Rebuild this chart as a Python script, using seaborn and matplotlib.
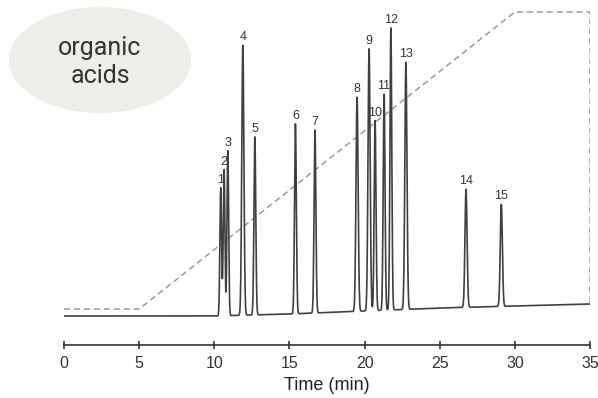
import numpy as np
import pandas as pd
import matplotlib
matplotlib.use('Agg')
import matplotlib.pyplot as plt
from matplotlib.patches import Ellipse
import seaborn as sns

# peak table (time in min, height in arbitrary units)
peak_ids = ['1', '2', '3', '4', '5', '6', '7', '8', '9', '10', '11', '12', '13', '14', '15']
peak_rt = [10.43, 10.65, 10.9, 11.9, 12.7, 15.4, 16.7, 19.5, 20.3, 20.7, 21.3, 21.75, 22.75, 26.75, 29.1]
peak_height = [128, 146, 165, 270, 178, 190, 183, 214, 262, 190, 216, 282, 247, 118, 102]
peak_sigma = [0.055, 0.055, 0.055, 0.07, 0.06, 0.06, 0.06, 0.07, 0.07, 0.06, 0.06, 0.06, 0.07, 0.07, 0.07]

# baseline drift knots
base_time = [0, 10, 15, 20, 25, 30, 35]
base_level = [0, 0, 2, 5, 8, 10, 12]

# solvent gradient program (dashed)
grad_time = [0, 5, 30, 35, 35]
grad_level = [7, 7, 304, 304, 11]

t = np.linspace(0, 35, 3501)
signal = np.interp(t, base_time, base_level).astype(float)
for rt, h, s in zip(peak_rt, peak_height, peak_sigma):
    signal += h * np.exp(-0.5 * ((t - rt) / s) ** 2)

trace = pd.DataFrame({'time': t, 'signal': signal})
grad = pd.DataFrame({'time': grad_time, 'level': grad_level})

sns.set_theme(style='white')
plt.rcParams['font.family'] = ['Liberation Sans', 'DejaVu Sans']

fig = plt.figure(figsize=(5.98, 3.98), dpi=100)
ax = fig.add_axes([64 / 598, 53 / 398, 526 / 598, 340 / 398])

sns.lineplot(data=grad, x='time', y='level', ax=ax, sort=False, estimator=None,
             color='#9a9a9a', linewidth=1.1, linestyle=(0, (4, 2.5)))
sns.lineplot(data=trace, x='time', y='signal', ax=ax, estimator=None,
             color='#404040', linewidth=1.2)

# peak numbers
for pid, rt, h in zip(peak_ids, peak_rt, peak_height):
    top = signal[np.argmin(np.abs(t - rt))]
    ax.text(rt, top + 2, pid, ha='center', va='bottom', fontsize=9, color='#333333')

ax.set_xlim(0, 35)
ax.set_ylim(-29, 311)
ax.set_xticks([0, 5, 10, 15, 20, 25, 30, 35])
ax.set_yticks([])
ax.set_xlabel('Time (min)', fontsize=13, color='#222222', labelpad=4)
ax.set_ylabel('')
for side in ['top', 'right', 'left']:
    ax.spines[side].set_visible(False)
ax.spines['bottom'].set_color('#333333')
ax.spines['bottom'].set_linewidth(1.2)
ax.tick_params(axis='x', direction='inout', length=6, width=1.2, color='#333333',
               labelsize=11.5, labelcolor='#333333', pad=5, bottom=True)

# label bubble
fig.patches.append(Ellipse((100 / 598, 1 - 60 / 398), 182 / 598, 106 / 398,
                           transform=fig.transFigure, facecolor='#eeeee8', edgecolor='none'))
fig.text(100 / 598, 1 - 62 / 398, 'organic\nacids', ha='center', va='center',
         fontsize=18, color='#333333', family=['Roboto', 'DejaVu Sans'], linespacing=1.25)

fig.savefig('out.png', dpi=100)
